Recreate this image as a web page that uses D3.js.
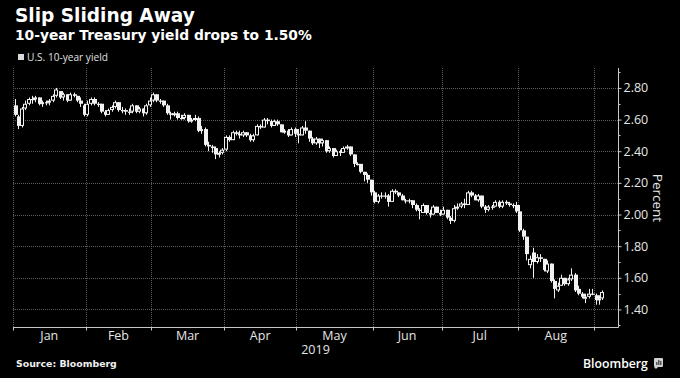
<!DOCTYPE html>
<html><head><meta charset="utf-8">
<script src="https://cdn.jsdelivr.net/npm/d3@7"></script>
<style>html,body{margin:0;padding:0;background:#000;} svg{display:block;}</style>
</head><body>
<svg id="c" width="680" height="378"></svg>
<script>
// ---- data ----
const months = ["Jan","Feb","Mar","Apr","May","Jun","Jul","Aug"];
const tradingDays = [21,19,21,21,22,20,22,22];
const yTicks = [1.40,1.60,1.80,2.00,2.20,2.40,2.60,2.80];
const yMinorTicks = [1.30,1.50,1.70,1.90,2.10,2.30,2.50,2.70,2.90];
const yearLabel = "2019";

const open = [
 2.69,2.62,2.56,2.67,2.70,2.73,2.73,2.74,2.70,2.71,2.71,2.72,2.75,2.78,2.74,2.76,2.72,2.76,2.75,2.72,2.69,
 2.63,2.70,2.73,2.70,2.70,2.65,2.63,2.66,2.68,2.71,2.66,2.66,2.65,2.65,2.69,2.65,2.67,2.64,2.69,
 2.72,2.76,2.72,2.72,2.69,2.64,2.63,2.64,2.61,2.61,2.63,2.59,2.60,2.61,2.53,2.54,2.44,2.43,2.42,2.38,2.39,
 2.41,2.49,2.47,2.52,2.51,2.50,2.52,2.50,2.47,2.50,2.56,2.55,2.60,2.59,2.56,2.59,2.57,2.52,2.53,2.50,2.54,
 2.51,2.50,2.55,2.53,2.48,2.45,2.48,2.45,2.47,2.40,2.42,2.37,2.40,2.39,2.42,2.43,2.38,2.32,2.32,2.27,2.25,2.22,
 2.14,2.08,2.12,2.12,2.12,2.08,2.15,2.14,2.12,2.09,2.09,2.09,2.06,2.03,2.01,2.06,2.01,2.00,2.05,2.01,
 2.00,2.03,1.98,1.96,2.04,2.05,2.07,2.06,2.14,2.12,2.09,2.12,2.05,2.03,2.05,2.05,2.08,2.05,2.08,2.07,2.06,2.06,
 2.02,1.90,1.86,1.68,1.76,1.70,1.73,1.72,1.64,1.69,1.58,1.52,1.55,1.60,1.56,1.59,1.62,1.53,1.50,1.47,1.48,1.50,
 1.49,1.46,1.47];
const high = [
 2.73,2.63,2.68,2.72,2.74,2.75,2.75,2.74,2.72,2.72,2.73,2.76,2.80,2.78,2.77,2.76,2.77,2.77,2.75,2.74,2.70,
 2.72,2.74,2.74,2.71,2.70,2.66,2.67,2.69,2.72,2.71,2.68,2.67,2.67,2.70,2.69,2.68,2.67,2.70,2.74,
 2.77,2.76,2.73,2.72,2.70,2.65,2.65,2.65,2.63,2.64,2.63,2.61,2.63,2.62,2.56,2.55,2.46,2.44,2.43,2.40,2.42,
 2.50,2.50,2.53,2.53,2.53,2.53,2.52,2.51,2.51,2.57,2.57,2.61,2.61,2.60,2.60,2.60,2.57,2.54,2.54,2.55,2.55,
 2.54,2.56,2.59,2.53,2.49,2.49,2.48,2.48,2.47,2.43,2.42,2.41,2.41,2.43,2.44,2.43,2.38,2.33,2.32,2.27,2.26,2.22,
 2.15,2.13,2.14,2.14,2.13,2.16,2.16,2.14,2.13,2.10,2.10,2.09,2.07,2.04,2.07,2.06,2.03,2.06,2.05,2.03,
 2.05,2.03,1.99,2.06,2.07,2.08,2.10,2.15,2.15,2.13,2.13,2.12,2.06,2.06,2.06,2.09,2.09,2.09,2.09,2.08,2.07,2.08,
 2.06,1.91,1.86,1.74,1.79,1.75,1.75,1.72,1.71,1.69,1.59,1.57,1.62,1.60,1.60,1.66,1.63,1.55,1.51,1.50,1.53,1.53,
 1.50,1.49,1.52];
const low = [
 2.62,2.54,2.55,2.66,2.69,2.70,2.71,2.69,2.68,2.69,2.69,2.71,2.74,2.73,2.72,2.71,2.72,2.74,2.71,2.68,2.62,
 2.62,2.69,2.69,2.68,2.64,2.62,2.63,2.65,2.67,2.65,2.64,2.63,2.63,2.64,2.64,2.64,2.62,2.63,2.68,
 2.71,2.71,2.70,2.68,2.63,2.60,2.62,2.60,2.60,2.60,2.58,2.58,2.59,2.52,2.51,2.43,2.40,2.39,2.35,2.36,2.38,
 2.40,2.46,2.47,2.50,2.48,2.49,2.49,2.46,2.46,2.50,2.54,2.55,2.57,2.55,2.56,2.56,2.52,2.51,2.49,2.50,2.49,
 2.45,2.50,2.51,2.46,2.44,2.44,2.42,2.43,2.39,2.39,2.36,2.37,2.37,2.39,2.41,2.37,2.30,2.31,2.26,2.21,2.20,2.12,
 2.07,2.07,2.10,2.10,2.05,2.08,2.13,2.11,2.09,2.07,2.07,2.04,2.02,1.97,2.01,2.00,1.98,2.00,2.01,1.99,
 2.00,1.97,1.94,1.95,2.03,2.04,2.04,2.06,2.11,2.09,2.08,2.04,2.01,2.02,2.03,2.05,2.04,2.04,2.06,2.05,2.04,2.01,
 1.89,1.84,1.71,1.66,1.60,1.69,1.70,1.64,1.63,1.57,1.47,1.51,1.55,1.55,1.55,1.58,1.51,1.49,1.47,1.44,1.47,1.49,
 1.43,1.43,1.46];
const close = [
 2.63,2.56,2.67,2.70,2.73,2.73,2.74,2.70,2.71,2.71,2.72,2.75,2.79,2.74,2.76,2.72,2.76,2.75,2.72,2.70,2.63,
 2.70,2.73,2.70,2.70,2.65,2.63,2.66,2.68,2.71,2.66,2.66,2.65,2.65,2.69,2.65,2.67,2.64,2.69,2.72,
 2.76,2.72,2.72,2.69,2.64,2.63,2.64,2.61,2.61,2.63,2.59,2.60,2.61,2.53,2.54,2.44,2.43,2.42,2.38,2.39,2.41,
 2.49,2.47,2.52,2.51,2.50,2.52,2.50,2.47,2.50,2.56,2.55,2.60,2.59,2.56,2.59,2.57,2.52,2.53,2.50,2.54,2.51,
 2.50,2.55,2.53,2.48,2.45,2.48,2.45,2.47,2.40,2.42,2.37,2.40,2.39,2.42,2.43,2.38,2.32,2.32,2.27,2.25,2.22,2.14,
 2.08,2.12,2.12,2.12,2.08,2.15,2.14,2.12,2.09,2.09,2.09,2.06,2.03,2.03,2.06,2.01,2.00,2.05,2.01,2.00,
 2.03,1.98,1.96,2.04,2.05,2.07,2.06,2.14,2.12,2.09,2.12,2.05,2.03,2.05,2.05,2.08,2.05,2.08,2.07,2.06,2.06,2.02,
 1.90,1.86,1.75,1.72,1.70,1.73,1.72,1.65,1.69,1.58,1.53,1.55,1.60,1.56,1.59,1.62,1.52,1.50,1.48,1.48,1.50,1.50,
 1.46,1.47,1.51];

// ---- layout ----
const W = 680, H = 378;
const L = 13, R = 618, T = 68, B = 327.5;
const totalSlots = 175;
const svg = d3.select("#c");
svg.append("rect").attr("width", W).attr("height", H).attr("fill", "#000");

const x = d3.scaleLinear().domain([0, totalSlots]).range([L, R]);
const y = d3.scaleLinear().domain([1.286, 2.926]).range([B, T]);
const px = v => Math.round(v) + 0.5;

const bounds = [0];
tradingDays.forEach(d => bounds.push(bounds[bounds.length - 1] + d));

const FONT = "'Open Sans', 'DejaVu Sans', sans-serif";
const TFONT = "'DejaVu Sans', 'Open Sans', sans-serif";
const gridColor = "#5c5c5c";

// grid
const g = svg.append("g");
g.selectAll(".hg").data(yTicks).join("line")
  .attr("x1", L).attr("x2", R)
  .attr("y1", d => px(y(d))).attr("y2", d => px(y(d)))
  .attr("stroke", gridColor).attr("stroke-dasharray", "1,1");
g.selectAll(".vg").data(bounds).join("line")
  .attr("x1", d => px(x(d))).attr("x2", d => px(x(d)))
  .attr("y1", T).attr("y2", B)
  .attr("stroke", gridColor).attr("stroke-dasharray", "1,1");

// candles
const idx = d3.range(close.length);
const cg = svg.append("g");
cg.selectAll("line.w").data(idx).join("line")
  .attr("x1", i => px(x(i + 0.5))).attr("x2", i => px(x(i + 0.5)))
  .attr("y1", i => y(high[i])).attr("y2", i => y(low[i]))
  .attr("stroke", "#f2f2f2").attr("stroke-width", 1);
cg.selectAll("rect.b").data(idx).join("rect")
  .each(function(i) {
    const cx = Math.round(x(i + 0.5));
    const top = y(Math.max(open[i], close[i]));
    const bot = y(Math.min(open[i], close[i]));
    const up = close[i] > open[i];
    const s = d3.select(this);
    if (up) {
      s.attr("x", cx - 1.5).attr("width", 3)
       .attr("y", top + 0.5).attr("height", Math.max(1, bot - top - 1))
       .attr("fill", "#000").attr("stroke", "#f2f2f2").attr("stroke-width", 1);
    } else {
      s.attr("x", cx - 1).attr("width", 4)
       .attr("y", top).attr("height", Math.max(1.2, bot - top))
       .attr("fill", "#f2f2f2");
    }
  });

// axes
const axisColor = "#c8c8c8";
svg.append("line").attr("x1", L).attr("x2", R + 0.5).attr("y1", B).attr("y2", B).attr("stroke", axisColor);
svg.append("line").attr("x1", R + 0.5).attr("x2", R + 0.5).attr("y1", T).attr("y2", B).attr("stroke", axisColor);

const yAxis = d3.axisRight(y).tickValues(yTicks).tickFormat(d3.format(".2f")).tickSize(3).tickPadding(2);
const ya = svg.append("g").attr("transform", `translate(${R + 0.5},0)`).call(yAxis);
ya.select(".domain").remove();
ya.selectAll("line").attr("stroke", axisColor);
ya.selectAll("text").attr("fill", "#e6e6e6").style("font-family", FONT).style("font-size", "12.5px");
svg.append("g").selectAll("line").data(yMinorTicks.filter(v => y(v) >= T && y(v) <= B)).join("line")
  .attr("x1", R + 0.5).attr("x2", R + 2.5)
  .attr("y1", d => px(y(d))).attr("y2", d => px(y(d)))
  .attr("stroke", axisColor);

// x ticks (month boundaries) and labels
svg.append("g").selectAll("line").data(bounds).join("line")
  .attr("x1", d => px(x(d))).attr("x2", d => px(x(d)))
  .attr("y1", B).attr("y2", B + 3).attr("stroke", axisColor);
svg.append("g").selectAll("text").data(months).join("text")
  .attr("x", (d, i) => x((bounds[i] + bounds[i + 1]) / 2))
  .attr("y", 339.5).attr("text-anchor", "middle")
  .attr("fill", "#e6e6e6").style("font-family", FONT).style("font-size", "12.5px")
  .text(d => d);
svg.append("text").attr("x", (L + R) / 2).attr("y", 354).attr("text-anchor", "middle")
  .attr("fill", "#e6e6e6").style("font-family", FONT).style("font-size", "12.5px").text(yearLabel);

// Percent label
svg.append("text").attr("transform", "translate(653,198) rotate(90)")
  .attr("text-anchor", "middle").attr("fill", "#e6e6e6")
  .style("font-family", FONT).style("font-size", "13.5px").text("Percent");

// titles
function fit(sel, w) {
  const n = sel.node(); const cur = parseFloat(sel.style("font-size"));
  const len = n.getComputedTextLength();
  if (len > 0) sel.style("font-size", (cur * w / len) + "px");
  return sel;
}
fit(svg.append("text").attr("x", 15).attr("y", 21.5).attr("fill", "#fff")
  .style("font-family", TFONT).style("font-weight", 700).style("font-size", "18px")
  .text("Slip Sliding Away"), 180);
fit(svg.append("text").attr("x", 15).attr("y", 39.5).attr("fill", "#fff")
  .style("font-family", TFONT).style("font-weight", 700).style("font-size", "14px")
  .text("10-year Treasury yield drops to 1.50%"), 297);

// legend
svg.append("rect").attr("x", 18).attr("y", 54).attr("width", 6).attr("height", 6).attr("fill", "#d9d9d9");
fit(svg.append("text").attr("x", 27).attr("y", 61).attr("fill", "#e0e0e0")
  .style("font-family", FONT).style("font-size", "10px").text("U.S. 10-year yield"), 81);

// footer
fit(svg.append("text").attr("x", 16).attr("y", 367).attr("fill", "#f0f0f0")
  .style("font-family", TFONT).style("font-weight", 700).style("font-size", "10px")
  .text("Source: Bloomberg"), 101);
fit(svg.append("text").attr("x", 583).attr("y", 367.5).attr("fill", "#fff")
  .style("font-family", FONT).style("font-weight", 600).style("font-size", "14px")
  .text("Bloomberg"), 65);
// small logo icon
const ic = svg.append("g").attr("transform", "translate(654,358)");
ic.append("rect").attr("width", 9).attr("height", 9).attr("rx", 1).attr("fill", "#d0d0d0");
ic.append("rect").attr("x", 2).attr("y", 4).attr("width", 1.5).attr("height", 3).attr("fill", "#555");
ic.append("rect").attr("x", 4).attr("y", 2).attr("width", 1.5).attr("height", 5).attr("fill", "#555");
ic.append("rect").attr("x", 6).attr("y", 3).attr("width", 1.5).attr("height", 4).attr("fill", "#555");
ic.append("path").attr("d", "M0,9 L4,9 L2,11 Z").attr("fill", "#d0d0d0");
</script>
</body></html>
